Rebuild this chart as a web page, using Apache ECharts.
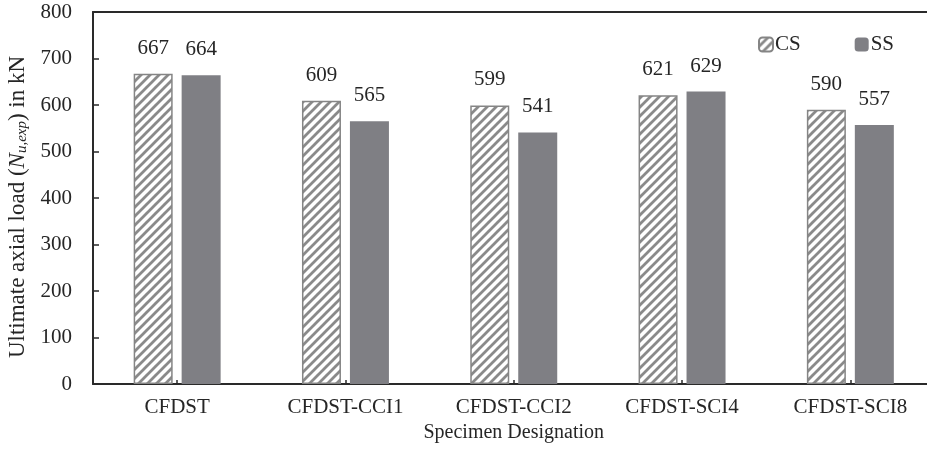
<!DOCTYPE html>
<html>
<head>
<meta charset="utf-8">
<script src="https://cdn.jsdelivr.net/npm/echarts@6/dist/echarts.min.js"></script>
<style>html,body{margin:0;padding:0;background:#fff}#c{width:927px;height:454px}</style>
</head>
<body>
<div id="c"></div>
<script>
var categories = ['CFDST', 'CFDST-CCI1', 'CFDST-CCI2', 'CFDST-SCI4', 'CFDST-SCI8'];
var csValues = [667, 609, 599, 621, 590];
var ssValues = [664, 565, 541, 629, 557];
var yTicks = [0, 100, 200, 300, 400, 500, 600, 700, 800];

var FONT = '"Liberation Serif", "Times New Roman", serif';
var TXT = '#262626';

function hatch() {
  var s = 9;
  var c = document.createElement('canvas');
  c.width = s; c.height = s;
  var g = c.getContext('2d');
  g.fillStyle = '#ffffff';
  g.fillRect(0, 0, s, s);
  g.strokeStyle = '#8a8a8a';
  g.lineWidth = 2.8;
  g.beginPath();
  g.moveTo(-2, s + 2); g.lineTo(s + 2, -2);
  g.moveTo(-2, 2); g.lineTo(2, -2);
  g.moveTo(s - 2, s + 2); g.lineTo(s + 2, s - 2);
  g.stroke();
  return c;
}

var chart = echarts.init(document.getElementById('c'), null, {renderer: 'canvas'});
chart.setOption({
  animation: false,
  textStyle: {fontFamily: FONT, color: TXT},
  grid: {left: 93, right: -7.5, top: 12, bottom: 70, containLabel: false, outerBoundsMode: 'none'},
  legend: {
    left: 753, top: 29, itemWidth: 14, itemHeight: 14, itemGap: 54,
    textStyle: {fontFamily: FONT, fontSize: 21, color: TXT, padding: [0,0,0,-3]},
    data: ['CS', 'SS']
  },
  xAxis: [{
    type: 'category', data: categories,
    axisLine: {show: true, lineStyle: {color: '#2a2a2a', width: 2}},
    axisTick: {show: true, inside: true, alignWithLabel: true, length: 4, lineStyle: {color: '#2a2a2a', width: 1.5}},
    axisLabel: {fontFamily: FONT, fontSize: 21, color: TXT, margin: 13},
    name: 'Specimen Designation', nameLocation: 'middle', nameGap: 37,
    nameTextStyle: {fontFamily: FONT, fontSize: 20, color: TXT}
  }, {
    type: 'category', data: categories, position: 'top',
    axisLine: {show: true, lineStyle: {color: '#2a2a2a', width: 2}},
    axisTick: {show: false}, axisLabel: {show: false}
  }],
  yAxis: {
    type: 'value', min: yTicks[0], max: yTicks[yTicks.length - 1], interval: 100,
    axisLine: {show: true, lineStyle: {color: '#2a2a2a', width: 2}},
    axisTick: {show: true, inside: true, length: 6, lineStyle: {color: '#2a2a2a', width: 1.5}},
    splitLine: {show: false},
    axisLabel: {fontFamily: FONT, fontSize: 21, color: TXT, margin: 21},
    name: '{a|Ultimate axial load (}{i|N}{s|u,exp}{a|) in kN}',
    nameLocation: 'middle', nameGap: 60,
    nameTextStyle: {
      fontFamily: FONT, fontSize: 23, color: TXT, padding: [0, 18, 0, 0],
      rich: {
        a: {fontFamily: FONT, fontSize: 23, color: TXT, lineHeight: 28, verticalAlign: 'bottom'},
        i: {fontFamily: FONT, fontSize: 23, color: TXT, fontStyle: 'italic', lineHeight: 28, verticalAlign: 'bottom'},
        s: {fontFamily: FONT, fontSize: 15, color: TXT, fontStyle: 'italic', lineHeight: 13, verticalAlign: 'bottom'}
      }
    }
  },
  series: [{
    name: 'CS', type: 'bar', data: csValues, barWidth: 39, barGap: '23%',
    itemStyle: {color: {image: hatch(), repeat: 'repeat'}, borderColor: '#858585', borderWidth: 1.5},
    label: {show: true, position: 'top', distance: 15, fontFamily: FONT, fontSize: 21, color: TXT}
  }, {
    name: 'SS', type: 'bar', data: ssValues, barWidth: 39,
    itemStyle: {color: '#7f7f84'},
    label: {show: true, position: 'top', distance: 15, fontFamily: FONT, fontSize: 21, color: TXT}
  }]
});
</script>
</body>
</html>
